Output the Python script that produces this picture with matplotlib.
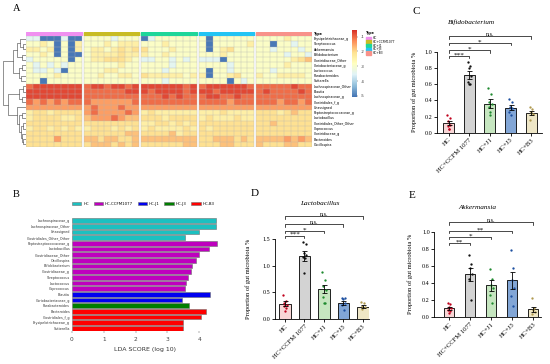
import numpy as np
import matplotlib
matplotlib.use("Agg")
import matplotlib.pyplot as plt
from matplotlib.colors import LinearSegmentedColormap, Normalize
from matplotlib.patches import Rectangle, Patch
from matplotlib.cm import ScalarMappable

W, H = 550, 364


def box(x0, y0, x1, y1):
    # pixel box (top-left origin) -> figure fraction
    return [x0 / W, 1 - y1 / H, (x1 - x0) / W, (y1 - y0) / H]


def fx(x):
    return x / W


def fy(y):
    return 1 - y / H


####### DATA #######
heat_taxa = ["Erysipelotrichaceae_g", "Streptococcus", "Akkermansia", "Bifidobacterium",
             "Clostridiaceae_Other", "Coriobacteriaceae_g", "Lactococcus", "Parabacteroides",
             "Sutterella", "Lachnospiraceae_Other", "Blautia", "Lachnospiraceae_g",
             "Clostridiales_f_g", "Unassigned", "Peptostreptococcaceae_g", "Lactobacillus",
             "Clostridiales_Other_Other", "Coprococcus", "Clostridiaceae_g", "Bacteroides",
             "Oscillospira"]
type_names = ["HC", "HC+CCFM1077", "HC+J1", "HC+J3", "HC+B3"]
type_colors = ["#F090F0", "#C8BC24", "#1ED69A", "#22C4F4", "#F8928A"]

heat_rows = [
    "22000200 33332333 02333333 30333333 33334333",
    "33430304 33343444 33343333 30333334 33033233",
    "44340304 34434545 53334333 30345333 33233323",
    "33430300 34444544 43343333 33343333 33332332",
    "23333303 34455543 22332323 22203333 33333456",
    "32323233 33333433 33332333 33332333 33334333",
    "32232033 33344333 33323333 30332333 33233333",
    "33334333 33433443 54444434 40334533 43344443",
    "33033333 33333333 33323333 33330323 33333333",
    "89999999 89989989 99999989 89999998 88888988",
    "99999999 88888899 98999989 99899999 89888898",
    "99999999 88888888 88898988 89988988 88888888",
    "87878788 87777778 88888888 88887888 88878878",
    "77777777 78777877 77777777 77777777 77777777",
    "45545555 78777787 45444444 44454444 55545655",
    "45555445 67778766 55545555 45444544 55555555",
    "55555555 55555555 44554545 55555555 55655555",
    "45545454 45554545 45444454 54555555 55555555",
    "55555555 55555566 55556455 55555555 55555555",
    "55557555 66566556 66666666 55666565 66667676",
    "55555555 56665656 55555566 55566555 65556655",
]
level_values = {"0": -5.0, "1": -4.0, "2": -3.45, "3": -2.9, "4": -2.4, "5": -2.08,
                "6": -1.78, "7": -1.45, "8": -1.05, "9": -0.75}

# row dendrogram: [left, right, height]
dendro_top = [[[0, [1, 2, 0.12], 0.25], [3, 4, 0.18], 0.4], [[5, 6, 0.15], [7, 8, 0.2], 0.3], 0.55]
dendro_bottom = [[[9, 10, 0.12], [11, 12, 0.15], 0.3],
                 [13, [[14, 15, 0.18], [[16, 17, 0.12], [18, [19, 20, 0.1], 0.16], 0.22], 0.3], 0.4], 0.8]
dendro_tree = [dendro_top, dendro_bottom, 1.0]

lda_taxa = ["Lachnospiraceae_g", "Lachnospiraceae_Other", "Unassigned", "Clostridiales_Other_Other",
            "Peptostreptococcaceae_g", "Lactobacillus", "Clostridiaceae_Other", "Oscillospira",
            "Bifidobacterium", "Clostridiaceae_g", "Streptococcus", "Lactococcus", "Coprococcus",
            "Blautia", "Coriobacteriaceae_g", "Parabacteroides", "Bacteroides", "Clostridiales_f_g",
            "Erysipelotrichaceae_g", "Sutterella"]
lda_scores = [4.52, 4.52, 3.99, 3.56, 4.55, 4.31, 4.0, 3.9, 3.76, 3.74, 3.66, 3.57, 3.54,
              4.34, 3.47, 3.68, 4.2, 4.07, 3.5, 3.5]
lda_class = [0, 0, 0, 0, 1, 1, 1, 1, 1, 1, 1, 1, 1, 2, 2, 3, 4, 4, 4, 4]
lda_names = ["HC", "HC-CCFM1077", "HC-J1", "HC-J3", "HC-B3"]
lda_colors = ["#1CC0C0", "#BE00BE", "#0000F0", "#007E00", "#FF0000"]

groups = ["HC", "HC+CCFM 1077", "HC+J1", "HC+J3", "HC+B3"]
bar_fill = ["#F8D6D6", "#D3D3D3", "#C6E6C0", "#82A6D6", "#EEE6C6"]
dot_color = ["#C0001C", "#111111", "#1E8A2E", "#1C4FA0", "#B09A50"]

bifido_mean = [0.12, 0.71, 0.36, 0.31, 0.24]
bifido_sem = [0.03, 0.05, 0.05, 0.03, 0.025]
bifido_pts = [[0.22, 0.18, 0.15, 0.10, 0.08, 0.05, 0.05],
              [0.87, 0.82, 0.80, 0.70, 0.63, 0.60, 0.60],
              [0.55, 0.48, 0.38, 0.36, 0.32, 0.25, 0.22],
              [0.42, 0.38, 0.32, 0.30, 0.26, 0.22],
              [0.32, 0.29, 0.25, 0.23, 0.16]]
bifido_sig = [(1, 0.95, "***"), (2, 1.02, "*"), (3, 1.11, "*"), (4, 1.19, "n.s.")]

lacto_mean = [0.29, 1.19, 0.56, 0.30, 0.23]
lacto_sem = [0.04, 0.09, 0.08, 0.04, 0.03]
lacto_pts = [[0.45, 0.33, 0.30, 0.27, 0.25, 0.20, 0.15],
             [1.44, 1.42, 1.24, 1.20, 1.17, 1.14, 0.87],
             [0.88, 0.73, 0.63, 0.55, 0.42, 0.31, 0.30],
             [0.40, 0.39, 0.37, 0.30, 0.26, 0.17],
             [0.32, 0.30, 0.24, 0.22, 0.18]]
lacto_sig = [(1, 1.57, "***"), (2, 1.66, "*"), (3, 1.78, "n.s."), (4, 1.93, "n.s.")]

akk_mean = [0.10, 0.50, 0.37, 0.43, 0.09]
akk_sem = [0.015, 0.08, 0.06, 0.10, 0.03]
akk_pts = [[0.16, 0.15, 0.12, 0.10, 0.08, 0.07, 0.05],
           [0.73, 0.62, 0.58, 0.50, 0.45, 0.20],
           [0.56, 0.45, 0.38, 0.34, 0.26, 0.16],
           [0.79, 0.57, 0.43, 0.34, 0.25, 0.13],
           [0.22, 0.10, 0.08, 0.06, 0.04]]
akk_sig = [(1, 0.87, "**"), (2, 0.94, "*"), (3, 1.01, "**"), (4, 1.11, "n.s.")]

####### FIGURE #######
plt.rcParams["font.family"] = ["DejaVu Sans"]
plt.rcParams["axes.unicode_minus"] = False
fig = plt.figure(figsize=(W / 100, H / 100), dpi=100)
SERIF = "Liberation Serif"

####### PANEL A: HEATMAP #######
gap = 0.22
ncol = 8
nrow = len(heat_taxa)
xmax = 5 * ncol + 4 * gap
mat = np.array([[level_values[c] for c in row.replace(" ", "")] for row in heat_rows])
cmap = LinearSegmentedColormap.from_list(
    "pheat", ["#4575B4", "#91BFDB", "#E0F3F8", "#FFFFBF", "#FEE090", "#FC8D59", "#D73027"])
norm = Normalize(vmin=-5.05, vmax=-0.55)

hax = fig.add_axes(box(26, 36, 312, 147))
for g in range(5):
    x0 = g * (ncol + gap)
    xs = x0 + np.arange(ncol + 1)
    ys = np.arange(nrow + 1)
    hax.pcolormesh(xs, ys, mat[:, g * ncol:(g + 1) * ncol], cmap=cmap, norm=norm,
                   edgecolors="none", antialiased=False)
    hax.vlines(xs, 0, nrow, color="#b4b4b4", lw=0.25)
    hax.hlines(ys, x0, x0 + ncol, color="#b4b4b4", lw=0.25)
hax.set_xlim(0, xmax)
hax.set_ylim(nrow, 0)
for s in hax.spines.values():
    s.set_visible(False)
hax.set_xticks([])
hax.yaxis.tick_right()
hax.set_yticks(np.arange(nrow) + 0.5)
hax.set_yticklabels(heat_taxa, fontsize=2.3)
hax.tick_params(axis="y", length=0, pad=1.2)

# group annotation bar
aax = fig.add_axes(box(26, 32.2, 312, 35.6))
for g in range(5):
    aax.add_patch(Rectangle((g * (ncol + gap), 0), ncol, 1, color=type_colors[g]))
aax.set_xlim(0, xmax)
aax.set_ylim(0, 1)
aax.axis("off")
fig.text(fx(314), fy(34), "Type", fontsize=2.4, fontweight="bold", va="center")

# dendrogram
dax = fig.add_axes(box(3, 36, 25.5, 147))


def draw_node(node):
    if isinstance(node, int):
        return node + 0.5, 0.0
    left, right, h = node
    yl, hl = draw_node(left)
    yr, hr = draw_node(right)
    dax.plot([hl, h, h, hr], [yl, yl, yr, yr], color="#555555", lw=0.45)
    return (yl + yr) / 2, h


draw_node(dendro_tree)
dax.set_xlim(1.02, 0)
dax.set_ylim(nrow, 0)
dax.axis("off")

# colour key
cax = fig.add_axes(box(352.3, 30, 357.5, 96.7))
cb = fig.colorbar(ScalarMappable(norm=norm, cmap=cmap), cax=cax, ticks=[-1, -2, -3, -4, -5])
cb.outline.set_visible(False)
cax.tick_params(labelsize=2.8, length=1, width=0.3, pad=1.5, colors="#333333")

# type legend
fig.text(fx(365.5), fy(33), "Type", fontsize=2.4, fontweight="bold", va="center")
for i, (nm, col) in enumerate(zip(type_names, type_colors)):
    yc = 38.3 + i * 3.7
    fig.add_artist(Rectangle((fx(365.5), fy(yc + 1.7)), 5.5 / W, 3.4 / H, color=col,
                             transform=fig.transFigure))
    fig.text(fx(372.5), fy(yc), nm, fontsize=2.2, va="center")

fig.text(fx(16.5), fy(8.5), "A", fontsize=7.5, family=SERIF, ha="center", va="center")

####### PANEL B: LDA #######
lax = fig.add_axes(box(72, 217.7, 218, 331.3))
ypos = np.arange(len(lda_taxa))
lax.barh(ypos, lda_scores, height=0.84, color=[lda_colors[c] for c in lda_class],
         edgecolor="#707070", linewidth=0.4)
lax.set_ylim(len(lda_taxa) - 0.5, -0.5)
lax.set_xlim(0, 4.59)
for s in lax.spines.values():
    s.set_visible(False)
lax.set_yticks(ypos)
lax.set_yticklabels(lda_taxa, fontsize=2.4, color="#333333")
lax.tick_params(axis="y", length=0, pad=1.5)
lax.set_xticks([0, 1, 2, 3, 4])
lax.tick_params(axis="x", labelsize=4.2, length=1.5, width=0.3, pad=2.5, colors="#444444")
lax.set_xlabel("LDA SCORE (log 10)", fontsize=4.5, color="#333333", labelpad=4)

handles = [Patch(facecolor=c, edgecolor="#707070", linewidth=0.4) for c in lda_colors]
fig.legend(handles, lda_names, loc="center left", bbox_to_anchor=(fx(72), fy(203.6)),
           ncol=5, fontsize=2.8, handlelength=2.4, handleheight=0.9, handletextpad=0.5,
           columnspacing=1.2, frameon=False, borderaxespad=0, borderpad=0)

fig.text(fx(16.5), fy(194.5), "B", fontsize=7.5, family=SERIF, ha="center", va="center")

####### PANELS C, D, E #######
jitter = [-0.14, 0.10, -0.04, 0.15, -0.10, 0.05, 0.0]


def bar_panel(pbox, xlim, ymax, yticks, width, means, sems, pts, sig, title, tpos,
              letter, lpos, ylab_x):
    ax = fig.add_axes(box(*pbox))
    x = np.arange(len(groups))
    ax.bar(x, means, width=width, color=bar_fill, edgecolor="black", linewidth=0.6, zorder=1)
    for i, p in enumerate(pts):
        ax.scatter(x[i] + np.array(jitter[:len(p)]) * width, p, s=2.8, color=dot_color[i],
                   linewidths=0, zorder=3)
    ax.errorbar(x, means, yerr=sems, fmt="none", ecolor="black", elinewidth=0.6,
                capsize=1.8, capthick=0.6, zorder=4)
    ax.set_xlim(*xlim)
    ax.set_ylim(0, ymax)
    ax.set_yticks(yticks)
    ax.set_yticklabels(["%.1f" % t for t in yticks], family=SERIF, fontsize=4.4)
    ax.set_xticks(x)
    ax.set_xticklabels(groups, family=SERIF, fontsize=4.8, rotation=45, ha="right",
                       va="top", rotation_mode="anchor")
    ax.tick_params(length=2, width=0.6, pad=1.2)
    for s in ["top", "right"]:
        ax.spines[s].set_visible(False)
    for s in ["left", "bottom"]:
        ax.spines[s].set_linewidth(0.6)
    ax.set_ylabel("Proportion of gut microbiota %", family=SERIF, fontsize=4.6)
    ax.yaxis.set_label_coords(ylab_x, 0.5)
    # significance brackets
    px_per_unit = (pbox[3] - pbox[1]) / ymax
    leg = 2.5 / px_per_unit
    for j, y, txt in sig:
        ax.plot([0, 0, j, j], [y - leg, y, y, y - leg], color="black", lw=0.5, clip_on=False)
        if txt == "n.s.":
            ax.text(j / 2, y + 0.8 / px_per_unit, txt, family=SERIF, fontsize=4.4,
                    ha="center", va="baseline")
        else:
            ax.text(j / 2, y - 0.5 / px_per_unit, txt, family=SERIF, fontsize=5.2,
                    ha="center", va="baseline")
    fig.text(fx(tpos[0]), fy(tpos[1]), title, family=SERIF, style="italic", fontsize=5.2,
             ha="center", va="center")
    fig.text(fx(lpos[0]), fy(lpos[1]), letter, family=SERIF, fontsize=8, ha="center",
             va="center")
    return ax


bar_panel((437, 51.7, 542, 132.7), (-0.57, 4.53), 1.0, [0, 0.2, 0.4, 0.6, 0.8, 1.0], 0.53,
          bifido_mean, bifido_sem, bifido_pts, bifido_sig, "Bifidobacterium", (472, 22.5),
          "C", (416.5, 11.5), -0.19)
bar_panel((275, 239.3, 369, 319), (-0.51, 4.31), 1.5, [0, 0.5, 1.0, 1.5], 0.6,
          lacto_mean, lacto_sem, lacto_pts, lacto_sig, "Lactobacillus", (319.5, 203.3),
          "D", (255, 193.3), -0.26)
bar_panel((434.3, 231.7, 540.5, 317), (-0.70, 4.34), 1.0, [0, 0.2, 0.4, 0.6, 0.8, 1.0], 0.48,
          akk_mean, akk_sem, akk_pts, akk_sig, "Akkermansia", (477.5, 207.7),
          "E", (412.5, 195), -0.2)

fig.savefig("out.png", dpi=100)
